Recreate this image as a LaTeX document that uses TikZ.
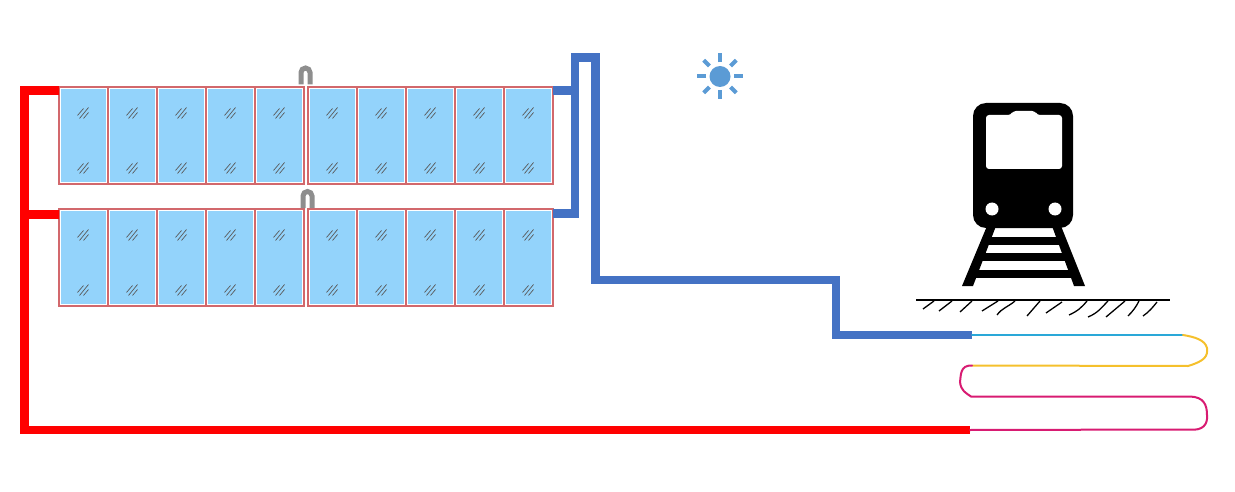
\documentclass[tikz,border=0pt]{standalone}
\usepackage{tikz}
\usetikzlibrary{positioning}

\definecolor{panelblue}{HTML}{93D3FB}
\definecolor{panelred}{HTML}{D2686C}
\definecolor{pipeblue}{HTML}{4472C4}
\definecolor{pipered}{HTML}{FF0000}
\definecolor{sunblue}{HTML}{5B9BD5}
\definecolor{coilcyan}{HTML}{2AA8D8}
\definecolor{coilyellow}{HTML}{F5C02C}
\definecolor{coilpink}{HTML}{D81B72}
\definecolor{hookgrey}{HTML}{8E8E8E}

\newcommand{\glassmark}[1]{
    \draw[glass] ([shift={(-6,{3+#1})}]path picture bounding box.center) -- ++(6,-7);
    \draw[glass] ([shift={(-4,{6+#1})}]path picture bounding box.center) -- ++(9,-11);
    \draw[glass] ([shift={(0,{6+#1})}]path picture bounding box.center) -- ++(5,-6);
}

\begin{document}
\begin{tikzpicture}[
    x=1pt,y=-1pt,
    glass/.style={draw=black!65,line width=0.7pt},
    panel/.style={draw=panelred,line width=1.1pt,fill=white,minimum width=49pt,minimum height=97pt,
        inner sep=0pt,outer sep=0pt,
        path picture={
            \fill[panelblue] ([shift={(1.6pt,1.6pt)}]path picture bounding box.south west)
                rectangle ([shift={(-1.6pt,-1.6pt)}]path picture bounding box.north east);
            \glassmark{-23}
            \glassmark{32}
        }},
    hook/.style={draw=hookgrey,line width=5pt},
    redpipe/.style={draw=pipered,line width=8.8pt,line join=miter},
    bluepipe/.style={draw=pipeblue,line width=8.8pt,line join=miter},
    ray/.style={draw=sunblue,line width=4pt},
    hatch/.style={draw=black,line width=1.3pt},
    coil/.style={line width=2pt,line cap=round}
]
\useasboundingbox (0,0) rectangle (1235,492);

% Top row of panels
\node[panel,anchor=north west] (t1) at (59,87) {};
\node[panel,right=0pt of t1] (t2) {};
\node[panel,right=0pt of t2] (t3) {};
\node[panel,right=0pt of t3] (t4) {};
\node[panel,right=0pt of t4] (t5) {};
\node[panel,right=4pt of t5] (t6) {};
\node[panel,right=0pt of t6] (t7) {};
\node[panel,right=0pt of t7] (t8) {};
\node[panel,right=0pt of t8] (t9) {};
\node[panel,right=0pt of t9] (t10) {};

% Bottom row of panels
\node[panel,below=25pt of t1] (b1) {};
\node[panel,right=0pt of b1] (b2) {};
\node[panel,right=0pt of b2] (b3) {};
\node[panel,right=0pt of b3] (b4) {};
\node[panel,right=0pt of b4] (b5) {};
\node[panel,right=4pt of b5] (b6) {};
\node[panel,right=0pt of b6] (b7) {};
\node[panel,right=0pt of b7] (b8) {};
\node[panel,right=0pt of b8] (b9) {};
\node[panel,right=0pt of b9] (b10) {};

% Hooks between the panels
\coordinate (hooktop) at (305.5,72.5);
\coordinate (hookbot) at (307.5,196);
\draw[hook] ([shift={(-4.5,12)}]hooktop) -- ++(0,-12) arc[start angle=180,end angle=0,radius=4.5pt] -- ++(0,12);
\draw[hook] ([shift={(-4.5,12)}]hookbot) -- ++(0,-12) arc[start angle=180,end angle=0,radius=4.5pt] -- ++(0,12);

% Red pipes
\coordinate (redleft) at (24.5,90.5);
\coordinate (redmid) at (24.5,214.5);
\coordinate (redend) at (970,430);
\draw[redpipe] (t1.west |- redleft) -- (redleft) -- (redleft |- redend) -- (redend);
\draw[redpipe] (b1.west |- redmid) -- (redmid);

% Blue pipes
\coordinate (bluea) at (575,57.5);
\coordinate (blueb) at (595.5,57.5);
\coordinate (bluec) at (595.5,280);
\coordinate (blued) at (836,280);
\coordinate (bluee) at (836,335);
\coordinate (bluef) at (972,335);
\coordinate (bluemid) at (575,213.5);
\draw[bluepipe] (bluea |- 0,217.9) -- (bluea) -- (blueb) -- (bluec) -- (blued) -- (bluee) -- (bluef);
\draw[bluepipe] ([yshift=-3.5pt]t10.north east) -- (bluea |- 0,90.5);
\draw[bluepipe] (b10.east |- bluemid) -- (bluemid);

% Sun
\node[circle,fill=sunblue,minimum size=21pt,inner sep=0pt] (sun) at (720,76.5) {};
\foreach \ang in {0,90,180,270}
    \draw[ray] (sun.center) ++(\ang:14pt) -- ++(\ang:9pt);
\foreach \ang in {45,135,225,315}
    \draw[ray] (sun.center) ++(\ang:15pt) -- ++(\ang:8pt);

% Train
\fill[black,rounded corners=13pt] (973,103) rectangle (1073,228);
\fill[white,rounded corners=3pt] (986,115) -- (1011,115) -- (1013,111) -- (1035,111) -- (1037,115)
    -- (1062,115) -- (1062,169) -- (986,169) -- cycle;
\node[circle,fill=white,minimum size=13pt,inner sep=0pt] (lampl) at (992,209) {};
\node[circle,fill=white,minimum size=13pt,inner sep=0pt] (lampr) at (1055,209) {};

% Track
\fill[black] (987,226) -- (996,226) -- (973,286) -- (962,286) -- cycle;
\fill[black] (1052,226) -- (1061,226) -- (1085,286) -- (1074,286) -- cycle;
\fill[black] (986,237) rectangle (1062,244.5);
\fill[black] (980,253) rectangle (1068,261);
\fill[black] (973,270) rectangle (1075,278);

% Ground
\draw[draw=black,line width=1.8pt] (916,300) -- (1170,300);
\draw[hatch] (923,309) -- (934,301);
\draw[hatch] (939,311) -- (952,301);
\draw[hatch] (960,312) -- (972,301);
\draw[hatch] (982,311) -- (998,301);
\draw[hatch] (997,315) .. controls (1002,308) and (1008,307) .. (1015,301);
\draw[hatch] (1027,316) -- (1040,301);
\draw[hatch] (1046,313) -- (1062,302);
\draw[hatch] (1069,315) .. controls (1078,311) and (1082,307) .. (1087,301);
\draw[hatch] (1088,317) .. controls (1098,313) and (1102,307) .. (1108,301);
\draw[hatch] (1106,317) -- (1125,301);
\draw[hatch] (1128,316) .. controls (1133,311) and (1136,307) .. (1139,301);
\draw[hatch] (1143,316) .. controls (1149,312) and (1153,307) .. (1157,302);

% Coil under the ground
\draw[coil,coilcyan] (bluef) -- (1183,335);
\draw[coil,coilyellow] (1183,335) .. controls (1195,337) and (1205,340) .. (1207,348)
    .. controls (1208,356) and (1205,361) .. (1188,366) -- (972,365.5);
\draw[coil,coilpink] (972,365.5) .. controls (960,365) and (961,375) .. (960,382)
    .. controls (961,391) and (966,393) .. (971,396.5) -- (1190,396.5)
    .. controls (1204,397) and (1207,405) .. (1207,415)
    .. controls (1208,424) and (1203,431) .. (1190,429.5) -- (redend);

\end{tikzpicture}
\end{document}
